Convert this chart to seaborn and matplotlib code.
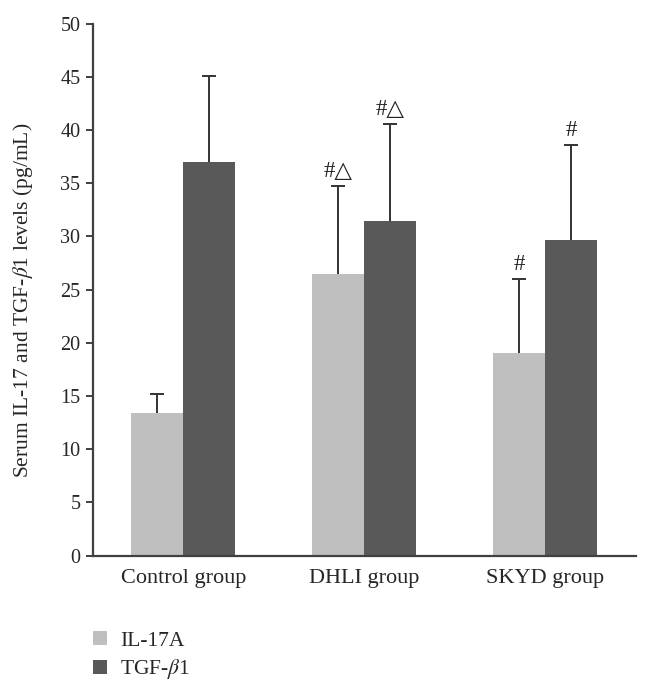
import numpy as np
import pandas as pd
import matplotlib
matplotlib.use("Agg")
import matplotlib.pyplot as plt
import seaborn as sns

# data
groups = ["Control group", "DHLI group", "SKYD group"]
il17a_mean = [13.4, 26.5, 19.05]
il17a_sd = [1.8, 8.2, 6.9]
tgfb1_mean = [36.95, 31.45, 29.7]
tgfb1_sd = [8.1, 9.1, 8.85]
marks_il17a = ["", "#\u25b3", "#"]
marks_tgfb1 = ["", "#\u25b3", "#"]
series = ["IL-17A", "TGF-$\\beta$1"]

df = pd.DataFrame({
    "group": groups * 2,
    "marker": [series[0]] * 3 + [series[1]] * 3,
    "value": il17a_mean + tgfb1_mean,
})

sns.set_style("white")
plt.rcParams["font.family"] = ["Liberation Serif", "DejaVu Sans"]
plt.rcParams["mathtext.fontset"] = "stix"

fig = plt.figure(figsize=(6.5, 6.92), dpi=100)
ax = fig.add_axes([0.143, 0.197, 0.835, 0.769])

sns.barplot(data=df, x="group", y="value", hue="marker",
            palette=["#bfbfbf", "#595959"], width=0.575,
            errorbar=None, saturation=1, linewidth=0, ax=ax, legend=True)

# upward-only error bars plus significance marks
sds = [il17a_sd, tgfb1_sd]
marks = [marks_il17a, marks_tgfb1]
for cont, sd, mk in zip(ax.containers, sds, marks):
    for bar, s, m in zip(cont, sd, mk):
        xc = bar.get_x() + bar.get_width() / 2
        h = bar.get_height()
        eb = ax.errorbar(xc, h, yerr=[[0], [s]], fmt="none", ecolor="#333333",
                         elinewidth=1.4, capsize=5, capthick=1.4)
        eb[1][0].set_visible(False)
        if m:
            ax.annotate(m, (xc, h + s), xytext=(0, 3), textcoords="offset points",
                        ha="center", va="bottom", fontsize=16.5, color="#222222")

ax.set_xlim(-0.5, 2.5)
ax.set_ylim(0, 50)
ax.set_yticks(np.arange(0, 51, 5))
ax.set_xlabel("")
ax.set_ylabel("Serum IL-17 and TGF-$\\beta$1 levels (pg/mL)", fontsize=15.5)
ax.yaxis.set_label_coords(-0.107, 0.48)
ax.tick_params(axis="y", labelsize=14.5, left=True, length=5, width=1.4, color="#404040", pad=4)
ax.tick_params(axis="x", labelsize=16, bottom=False, pad=6)

for side in ["top", "right"]:
    ax.spines[side].set_visible(False)
for side in ["left", "bottom"]:
    ax.spines[side].set_color("#404040")
    ax.spines[side].set_linewidth(1.6)

ax.legend(loc="upper left", bbox_to_anchor=(0.143, 0.088), bbox_transform=fig.transFigure,
          frameon=False, fontsize=15.5, handlelength=0.65, handleheight=0.65,
          handletextpad=0.6, labelspacing=0.3, borderaxespad=0, borderpad=0)

fig.savefig("out.png", dpi=100)
